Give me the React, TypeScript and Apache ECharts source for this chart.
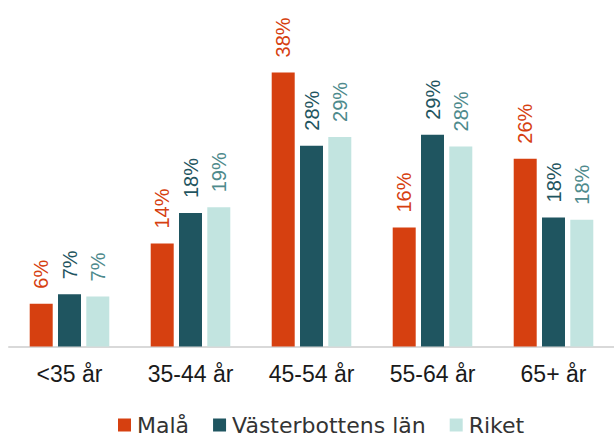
import React, { useEffect, useRef } from "react";
import * as echarts from "echarts";

const categories = ["<35 år", "35-44 år", "45-54 år", "55-64 år", "65+ år"];
const seriesNames = ["Malå", "Västerbottens län", "Riket"];
const mala = [5.9, 14.2, 37.8, 16.4, 25.9];
const vasterbotten = [7.2, 18.4, 27.7, 29.2, 17.8];
const riket = [6.9, 19.2, 28.9, 27.6, 17.5];

const barColors = ["#D64010", "#1F5560", "#C2E4E0"];
const labelColors = ["#D64010", "#1F5560", "#4E8A8C"];

export default function App() {
  const ref = useRef<HTMLDivElement>(null);
  useEffect(() => {
    if (!ref.current) return;
    const chart = echarts.init(ref.current, null, { renderer: "svg" });
    const values = [mala, vasterbotten, riket];
    chart.setOption({
      animation: false,
      grid: { left: 9, width: 610, top: 13, height: 333.5 },
      legend: {
        data: seriesNames,
        left: 118,
        top: 414,
        padding: 0,
        itemWidth: 13,
        itemHeight: 13,
        itemGap: 24,
        icon: "rect",
        textStyle: { fontFamily: "DejaVu Sans", fontSize: 22, color: "#333", lineHeight: 22, padding: [0, 0, 0, 1] },
      },
      xAxis: {
        type: "category",
        data: categories,
        axisLine: { lineStyle: { color: "#D9D9D9", width: 2 } },
        axisTick: { show: false },
        axisLabel: { fontFamily: "Liberation Sans", fontSize: 23, color: "#1a1a1a", margin: 16 },
      },
      yAxis: {
        type: "value",
        min: 0,
        max: 46,
        show: false,
        splitLine: { show: false },
      },
      series: seriesNames.map((name, i) => ({
        name,
        type: "bar",
        data: values[i],
        barWidth: 23,
        barGap: "23%",
        itemStyle: { color: barColors[i] },
        label: {
          show: true,
          position: "top",
          rotate: 90,
          align: "left",
          verticalAlign: "middle",
          distance: 15,
          fontFamily: "Liberation Sans",
          fontSize: 20,
          color: labelColors[i],
          formatter: (p: any) => Math.round(p.value) + "%",
        },
      })),
    });
    return () => chart.dispose();
  }, []);
  return (
    <div
      ref={ref}
      style={{ position: "fixed", left: 0, top: 0, width: 614, height: 437, background: "#fff" }}
    />
  );
}
